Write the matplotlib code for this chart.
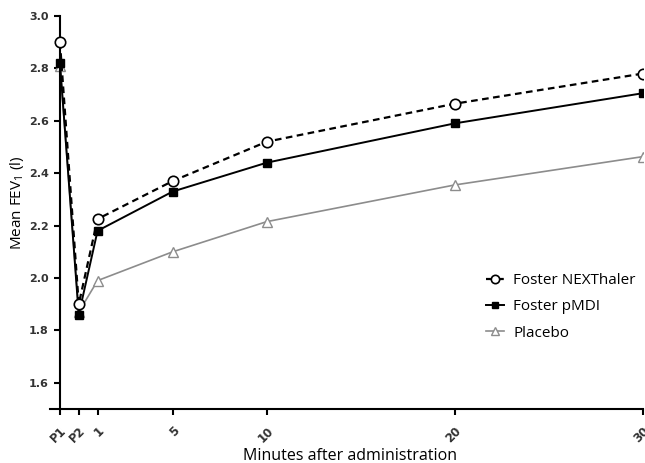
import matplotlib
matplotlib.use("Agg")
import matplotlib.pyplot as plt

# x positions: P1 = -1, P2 = 0, then minutes after administration
x_pos = [-1, 0, 1, 5, 10, 20, 30]
x_labels = ["P1", "P2", "1", "5", "10", "20", "30"]

nexthaler = [2.90, 1.90, 2.225, 2.37, 2.52, 2.665, 2.78]
pmdi = [2.82, 1.86, 2.18, 2.33, 2.44, 2.59, 2.705]
placebo = [2.81, 1.87, 1.99, 2.10, 2.215, 2.355, 2.463]

y_ticks = [1.6, 1.8, 2.0, 2.2, 2.4, 2.6, 2.8, 3.0]

fig = plt.figure(figsize=(6.45, 4.63), dpi=100)
ax = fig.add_axes([0.0775, 0.1166, 0.919, 0.849])

ax.plot(x_pos, placebo, color="#8c8c8c", lw=1.2, marker="^", ms=6.5,
        mfc="white", mec="#8c8c8c", mew=1.0, label="Placebo", zorder=2)
ax.plot(x_pos, pmdi, color="black", lw=1.4, marker="s", ms=6,
        mfc="black", mec="black", label="Foster pMDI", zorder=3)
ax.plot(x_pos, nexthaler, color="black", lw=1.6, ls=(0, (3, 2)), marker="o",
        ms=7.5, mfc="white", mec="black", mew=1.2, label="Foster NEXThaler",
        zorder=4)

ax.set_xlim(-1.53, 30)
ax.set_ylim(1.5, 3.0)
ax.spines["top"].set_visible(False)
ax.spines["right"].set_visible(False)
ax.spines["left"].set_position(("data", -1))
ax.spines["left"].set_linewidth(1.5)
ax.spines["bottom"].set_linewidth(1.5)

ax.set_xticks(x_pos)
ax.set_xticklabels(x_labels, rotation=45, ha="right", rotation_mode="anchor",
                   fontsize=8.5, fontweight="bold", color="#333333")
ax.set_yticks(y_ticks)
ax.set_yticklabels([f"{v:.1f}" for v in y_ticks], fontsize=8,
                   fontweight="bold", color="#333333")
ax.tick_params(axis="both", width=1.5, length=4, color="black")
ax.tick_params(axis="x", pad=7)
ax.tick_params(axis="y", pad=4)

ax.set_ylabel("Mean FEV$_\\mathregular{1}$ (l)", fontsize=11,
              family="Open Sans")
ax.yaxis.set_label_coords(-0.041, 0.524)
ax.set_xlabel("Minutes after administration", fontsize=11.5,
              family="Open Sans")
ax.xaxis.set_label_coords(0.506, -0.098)

handles, labels = ax.get_legend_handles_labels()
order = [2, 1, 0]
ax.legend([handles[i] for i in order], [labels[i] for i in order],
          loc="center left", bbox_to_anchor=(0.722, 0.26), frameon=False,
          borderpad=0, handlelength=1.2, handletextpad=0.6,
          prop={"family": "Open Sans", "size": 11},
          labelspacing=0.75, markerscale=0.8)

plt.savefig("out.png", dpi=100)
